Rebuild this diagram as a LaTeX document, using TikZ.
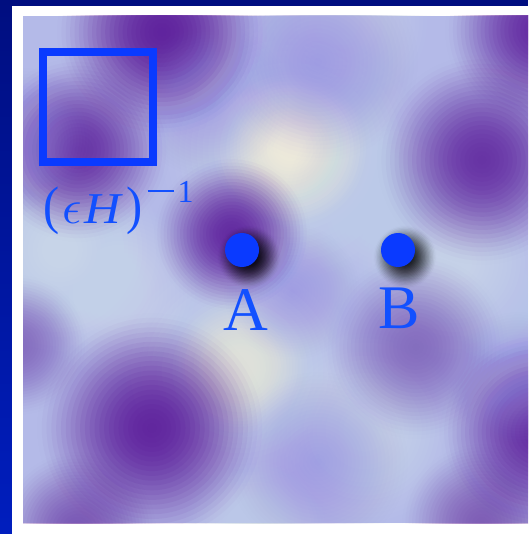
\documentclass[tikz,border=0pt]{standalone}
\usepackage{fontspec}
\usepackage{graphicx}
\setmainfont{Liberation Serif}
\definecolor{navy}{RGB}{0,14,128}
\definecolor{navyb}{RGB}{0,30,190}
\definecolor{fieldbase}{RGB}{180,186,232}
\definecolor{lightspot}{RGB}{206,220,232}
\definecolor{cream}{RGB}{246,240,218}
\definecolor{purp}{RGB}{96,34,158}
\definecolor{lav}{RGB}{150,138,226}
\definecolor{fg}{RGB}{10,58,255}
\definecolor{fgtext}{RGB}{18,80,255}
\tikzset{
  dotnode/.style={circle, fill=fg, minimum size=34pt, inner sep=0pt},
  sqbox/.style={draw=fg, line width=8pt, minimum size=110pt, inner sep=0pt},
  lbl/.style={text=fgtext, inner sep=0pt, font=\fontsize{62}{62}\selectfont, anchor=base}
}
% soft blob made of 24 concentric translucent discs: x, y, radius, colour, peak opacity
\newcommand{\blob}[5]{%
  \foreach \k in {1,...,24}{%
    \pgfmathsetmacro{\rr}{#3*(25-\k)/24}%
    \pgfmathsetmacro{\q}{(25-\k)/24-1/48}%
    \pgfmathsetmacro{\qp}{(26-\k)/24-1/48}%
    \pgfmathsetmacro{\F}{#5*(max(0,1-\q*\q))^1.6}%
    \pgfmathsetmacro{\Fp}{#5*(max(0.000001,1-\qp*\qp))^1.6*(\k>1)}%
    \pgfmathsetmacro{\al}{1-(1-\F)/(1-\Fp)}%
    \fill[#4, opacity=\al] (#1,#2) circle (\rr);
  }}
\begin{document}
\begin{tikzpicture}[x=1pt,y=-1pt]
\useasboundingbox (0,0) rectangle (528,534);
\fill[navy] (0,0) rectangle (528,534);
\shade[top color=navy, bottom color=navyb] (0,0) rectangle (12,534);
\fill[white] (12,6) rectangle (528,534);
\begin{scope}
\clip (23,16) rectangle (528,523);
\fill[fieldbase] (23,16) rectangle (528,523);
% light areas
\blob{290}{150}{140}{lightspot}{0.95}
\blob{290}{148}{80}{cream}{0.9}
\blob{60}{250}{110}{lightspot}{0.9}
\blob{240}{370}{125}{lightspot}{0.9}
\blob{240}{366}{70}{cream}{0.65}
\blob{365}{430}{105}{lightspot}{0.85}
\blob{340}{22}{95}{lightspot}{0.75}
\blob{455}{262}{105}{lightspot}{0.85}
\blob{120}{292}{95}{lightspot}{0.75}
\blob{390}{205}{105}{lightspot}{0.6}
\blob{255}{528}{80}{lightspot}{0.6}
\blob{495}{305}{70}{lightspot}{0.5}
% purple blobs
\blob{162}{32}{105}{purp}{0.97}
\blob{78}{150}{92}{purp}{0.85}
\blob{232}{234}{78}{purp}{0.92}
\blob{482}{160}{105}{purp}{0.85}
\blob{540}{30}{95}{purp}{0.9}
\blob{318}{62}{100}{lav}{0.6}
\blob{18}{345}{70}{purp}{0.45}
\blob{152}{428}{115}{purp}{0.95}
\blob{78}{530}{78}{purp}{0.6}
\blob{416}{347}{92}{purp}{0.45}
\blob{540}{432}{100}{purp}{0.9}
\blob{482}{524}{80}{purp}{0.55}
\blob{318}{462}{90}{lav}{0.5}
\blob{25}{140}{72}{lav}{0.5}
\blob{210}{100}{78}{lav}{0.4}
\blob{292}{292}{68}{lav}{0.4}
\blob{518}{380}{68}{lav}{0.5}
\end{scope}
% square
\node[sqbox] (sq) at (98,107) {};
\node[text=fgtext, inner sep=0pt, anchor=base west] (eh) at (43,224)
  {\fontsize{44}{44}\selectfont\scalebox{1.1}[1.2]{(}\kern3pt\scalebox{4.8}{\fontsize{10}{10}\selectfont$\epsilon$}\kern3pt\scalebox{1.15}[1]{\textit{H}}\kern3pt\scalebox{1.1}[1.2]{)}\raisebox{21pt}{\fontsize{32}{32}\selectfont\kern5pt\rule[10.5pt]{26pt}{2.4pt}\kern4pt 1}};
% dots with soft shadows
\coordinate (pa) at (242,250);
\coordinate (pb) at (398,250);
\blob{249}{257}{32}{black}{0.95}
\blob{405}{257}{32}{black}{0.9}
\node[dotnode] (a) at (pa) {};
\node[dotnode] (b) at (pb) {};
\node[lbl] (la) at (246,330) {A};
\node[lbl] (lb) at (399,328) {B};
\end{tikzpicture}
\end{document}
